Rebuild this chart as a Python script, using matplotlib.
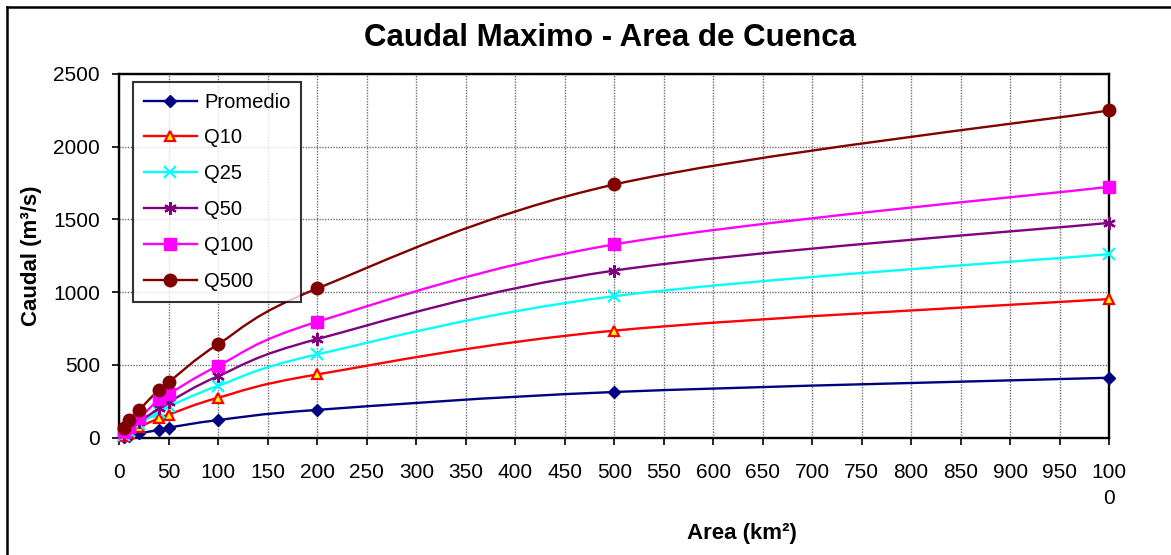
import numpy as np
import matplotlib.pyplot as plt
from matplotlib.path import Path
from matplotlib.patches import PathPatch
from matplotlib.lines import Line2D

plt.rcParams['font.family'] = ['Liberation Sans', 'DejaVu Sans']

# Area de cuenca (km2) and caudal maximo (m3/s) per series
area = [5, 10, 20, 40, 50, 100, 200, 500, 1000]
promedio = [3, 8, 28, 52, 68, 120, 190, 313, 411]
q10 = [12, 33, 72, 132, 158, 274, 434, 735, 952]
q25 = [18, 45, 92, 178, 214, 356, 572, 972, 1261]
q50 = [24, 55, 108, 200, 244, 423, 677, 1148, 1476]
q100 = [38, 72, 132, 262, 300, 494, 796, 1328, 1724]
q500 = [68, 122, 190, 330, 382, 643, 1025, 1740, 2249]

names = ['Promedio', 'Q10', 'Q25', 'Q50', 'Q100', 'Q500']
series = [promedio, q10, q25, q50, q100, q500]

xticks = list(range(0, 1001, 50))
xticklabels = [str(v) for v in xticks[:-1]] + ['100\n0']
yticks = list(range(0, 2501, 500))

styles = [
    dict(color='#000080', marker='D', ms=6.5, mfc='#000080', mec='#000080', mew=1),
    dict(color='#FF0000', marker='^', ms=6.5, mfc='#FFFF00', mec='#FF0000', mew=1.6),
    dict(color='#00FFFF', marker='x', ms=8, mfc='#00FFFF', mec='#00FFFF', mew=1.6),
    dict(color='#800080', marker=(6, 2, 0), ms=9, mfc='#800080', mec='#800080', mew=1.6),
    dict(color='#FF00FF', marker='s', ms=8, mfc='#FF00FF', mec='#FF00FF', mew=1),
    dict(color='#800000', marker='o', ms=9, mfc='#800000', mec='#800000', mew=1),
]


def smooth_path(xs, ys):
    # Catmull-Rom style bezier through the points (like Excel smoothed lines)
    pts = np.column_stack([xs, ys]).astype(float)
    n = len(pts)
    verts = [pts[0]]
    codes = [Path.MOVETO]
    for i in range(n - 1):
        p0 = pts[max(i - 1, 0)]
        p1 = pts[i]
        p2 = pts[i + 1]
        p3 = pts[min(i + 2, n - 1)]
        verts += [p1 + (p2 - p0) / 6, p2 - (p3 - p1) / 6, p2]
        codes += [Path.CURVE4] * 3
    return Path(verts, codes)


fig = plt.figure(figsize=(11.71, 5.55), dpi=100)
ax = fig.add_axes([0.1020, 0.2117, 0.8451, 0.6550])

handles = []
for name, vals, st in zip(names, series, styles):
    ax.add_patch(PathPatch(smooth_path(area, vals), facecolor='none',
                           edgecolor=st['color'], lw=1.7, zorder=3))
    ax.plot(area, vals, linestyle='none', marker=st['marker'], ms=st['ms'],
            mfc=st['mfc'], mec=st['mec'], mew=st['mew'], zorder=4, clip_on=False)
    handles.append(Line2D([], [], color=st['color'], lw=1.7, marker=st['marker'],
                          ms=st['ms'], mfc=st['mfc'], mec=st['mec'], mew=st['mew']))

ax.set_xlim(0, 1000)
ax.set_ylim(0, 2500)
ax.set_xticks(xticks)
ax.set_xticklabels(xticklabels)
ax.set_yticks(yticks)
for lab in ax.get_xticklabels():
    lab.set_linespacing(1.5)

ax.grid(True, color='#707070', linestyle=(0, (1, 1)), linewidth=1.0)
ax.set_axisbelow(True)
for sp in ax.spines.values():
    sp.set_linewidth(1.7)
    sp.set_color('black')
ax.tick_params(axis='x', direction='out', length=5, width=1.2, pad=13, labelsize=15)
ax.tick_params(axis='y', direction='out', length=5, width=1.2, pad=9, labelsize=15)

leg = ax.legend(handles, names, loc='upper left', bbox_to_anchor=(132.5 / 1171, 1 - 81.5 / 555),
                bbox_transform=fig.transFigure, fontsize=14.5, frameon=True, fancybox=False,
                handlelength=2.65, handletextpad=0.35, labelspacing=0.84, borderpad=0.55,
                borderaxespad=0)
leg.get_frame().set_edgecolor('black')
leg.get_frame().set_linewidth(1.5)
leg.set_zorder(6)

fig.text(0.521, 1 - 38 / 555, 'Caudal Maximo - Area de Cuenca', ha='center', va='center',
         fontsize=22.5, fontweight='bold')
fig.text(31 / 1171, 1 - 256 / 555, 'Caudal (m³/s)', rotation=90, ha='center', va='center',
         fontsize=16, fontweight='bold')
fig.text(742 / 1171, 1 - 533 / 555, 'Area (km²)', ha='center', va='center',
         fontsize=16, fontweight='bold')

# chart area border (left and top edges only are in view)
fig.add_artist(Line2D([7 / 1171, 7 / 1171], [0, 1 - 7 / 555], color='black', lw=1.8,
                      transform=fig.transFigure))
fig.add_artist(Line2D([7 / 1171, 1], [1 - 7 / 555, 1 - 7 / 555], color='black', lw=1.8,
                      transform=fig.transFigure))

fig.savefig('out.png', dpi=100)
